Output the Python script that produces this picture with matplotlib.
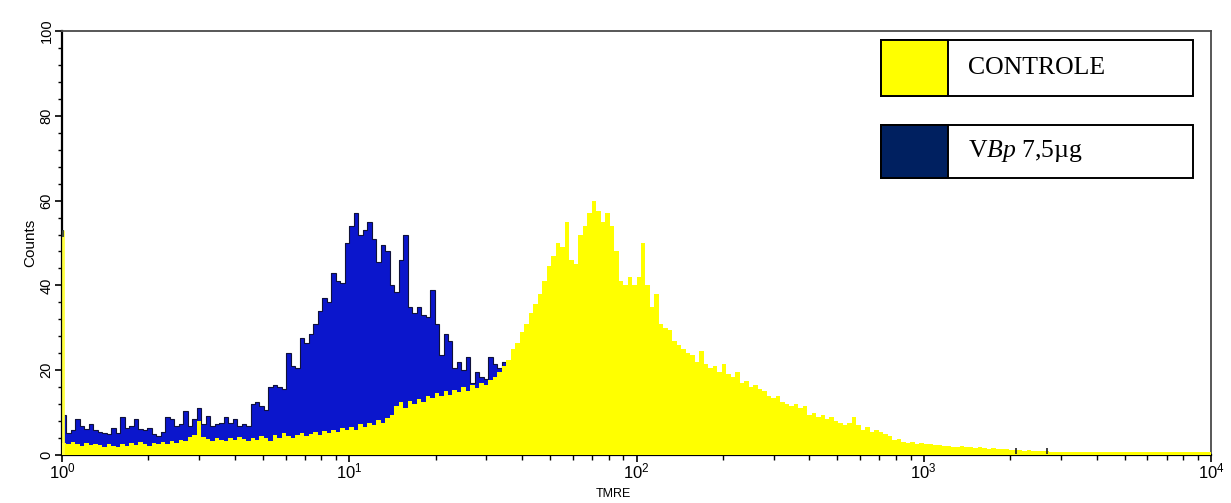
import numpy as np
import matplotlib
matplotlib.use("Agg")
import matplotlib.pyplot as plt
from matplotlib.patches import Rectangle
from matplotlib.ticker import MultipleLocator, LogLocator

plt.rcParams["font.family"] = ["Liberation Sans", "DejaVu Sans"]
plt.rcParams["mathtext.fontset"] = "custom"
plt.rcParams["mathtext.rm"] = "Liberation Serif"
plt.rcParams["mathtext.it"] = "Liberation Serif:italic"

# histogram counts, 64 channels per decade starting at 10^0
control_counts = [
    2.8, 2.5, 3.0, 2.6, 2.2, 2.9, 2.4, 2.7, 2.3, 2.0,
    2.6, 2.2, 1.8, 2.5, 2.1, 2.8, 2.4, 3.0, 2.6, 2.2,
    2.9, 2.5, 3.1, 2.7, 3.3, 2.8, 3.6, 3.2, 4.2, 4.6,
    8.0, 4.2, 3.8, 3.4, 4.0, 3.6, 3.2, 3.9, 3.5, 4.2,
    3.8, 3.3, 4.1, 3.6, 4.5, 3.9, 3.4, 4.6, 4.0, 5.2,
    4.4, 3.9, 4.8, 5.1, 4.5, 4.9, 5.4, 4.8, 5.6, 5.2,
    6.0, 5.4, 6.3, 5.8, 6.5, 6.0, 7.2, 6.6, 7.6, 7.0,
    8.2, 7.5, 8.8, 9.5, 11.5, 12.5, 11.0, 12.8, 12.0, 13.2,
    12.6, 14.0, 13.4, 14.6, 13.8, 15.0, 14.2, 15.4, 14.8, 16.0,
    15.2, 16.5, 15.8, 17.0, 16.4, 17.6, 18.4, 19.5, 21.0, 22.5,
    25.0, 26.5, 29.0, 31.0, 33.5, 35.5, 38.0, 41.0, 44.5, 47.0,
    50.0, 49.0, 55.0, 46.0, 45.0, 52.0, 54.0, 57.0, 60.0, 57.5,
    55.0, 57.0, 54.0, 48.0, 41.0, 40.0, 42.0, 40.0, 42.0, 50.0,
    40.0, 35.0, 38.0, 31.0, 30.0, 29.5, 27.0, 26.0, 25.0, 24.0,
    23.5, 22.0, 24.5, 21.5, 20.5, 21.0, 19.5, 21.5, 19.0, 18.5,
    19.5, 17.0, 17.5, 16.0, 16.5, 15.5, 15.0, 14.0, 13.5, 14.0,
    12.5, 12.0, 11.5, 12.0, 11.0, 11.5, 9.5, 10.0, 9.0, 9.5,
    8.5, 9.0, 8.0, 7.5, 7.0, 7.5, 9.0, 7.0, 6.0, 6.5,
    5.5, 6.0, 5.5, 5.0, 4.5, 3.5, 3.8, 3.0, 2.8, 3.0,
    2.6, 2.8, 2.5, 2.7, 2.3, 2.4, 2.1, 2.2, 2.0, 1.9,
    2.1, 1.8, 1.9, 1.7, 1.8, 1.6, 1.5, 1.6, 1.4, 1.5,
    1.3, 1.2, 1.1, 1.2, 1.0, 1.1, 1.0, 0.9, 1.0, 0.9,
    0.8, 0.7, 0.7, 0.6, 0.7, 0.6, 0.6, 0.6, 0.6, 0.6,
    0.6, 0.6, 0.6, 0.6, 0.6, 0.6, 0.6, 0.6, 0.6, 0.6,
    0.6, 0.6, 0.6, 0.6, 0.6, 0.6, 0.6, 0.6, 0.6, 0.6,
    0.6, 0.6, 0.6, 0.6, 0.6, 0.6,
]

vbp_counts = [
    9.5, 5.2, 5.8, 8.5, 6.8, 6.2, 7.2, 5.8, 5.4, 5.3,
    4.9, 6.4, 5.3, 9.0, 6.3, 6.8, 8.6, 6.2, 5.8, 6.3,
    4.9, 4.4, 5.4, 9.0, 8.6, 6.8, 7.2, 10.4, 6.8, 8.5,
    11.0, 7.2, 9.3, 6.8, 7.2, 7.6, 8.9, 7.6, 8.4, 6.8,
    7.2, 6.8, 12.0, 12.5, 11.5, 10.5, 16.0, 16.5, 16.0, 15.5,
    24.0, 21.0, 20.5, 27.5, 26.5, 28.5, 31.0, 34.0, 37.0, 36.0,
    43.0, 41.0, 40.5, 50.0, 54.0, 57.0, 52.0, 53.0, 55.0, 51.0,
    45.5, 49.5, 48.0, 40.0, 38.5, 46.0, 52.0, 35.0, 33.5, 35.0,
    33.0, 32.5, 39.0, 31.0, 23.5, 28.5, 27.0, 20.5, 22.0, 20.0,
    23.0, 17.0, 19.5, 18.5, 18.0, 23.0, 21.5, 20.5, 22.0, 21.5,
]

first_channel = 53          # off-scale pile-up in channel 0
marker_pos = [2095, 2685]   # small region markers on the baseline

legend_labels = ["CONTROLE", r"V$\mathit{Bp}$ 7,5µg"]
legend_colors = ["#ffff00", "#002060"]

W, H = 1231, 503
fig = plt.figure(figsize=(W / 100, H / 100), dpi=100)
ax = fig.add_axes([62 / W, (H - 455) / H, (1211 - 62) / W, (455 - 31) / H])

edges = 10 ** (np.arange(len(control_counts) + 1) / 64)
blue_edges = edges[: len(vbp_counts) + 1]

ax.stairs(vbp_counts, blue_edges, fill=True, color="#0b16cc", zorder=1)
ax.stairs(vbp_counts, blue_edges, color="#10123a", lw=0.8, zorder=2)
ax.stairs(control_counts, edges, fill=True, color="#ffff00", zorder=3)
ax.vlines(1.012, 0, first_channel, color="#ffff40", lw=2, zorder=3)
ax.vlines(1.012, first_channel - 1.5, first_channel, color="#203040", lw=1.2, zorder=4)
ax.plot(marker_pos, [0.3] * len(marker_pos), ls="none", marker=2, ms=4, mew=1.2,
        color="#222222", zorder=5)

ax.set_xscale("log")
ax.set_xlim(1, 1e4)
ax.set_ylim(0, 100)
ax.xaxis.set_major_locator(LogLocator(base=10, numticks=10))
ax.xaxis.set_minor_locator(LogLocator(base=10, subs=np.arange(2, 10), numticks=20))
ax.yaxis.set_major_locator(MultipleLocator(20))
ax.yaxis.set_minor_locator(MultipleLocator(4))

ax.tick_params(axis="both", which="both", direction="out", color="black")
ax.tick_params(axis="x", which="major", length=5, width=1.2, labelsize=12, pad=0)
ax.tick_params(axis="x", which="minor", length=3.5, width=1.0)
ax.tick_params(axis="y", which="major", length=5, width=1.2, labelsize=10.5, pad=1)
ax.tick_params(axis="y", which="minor", length=3, width=1.0)
for lab in ax.get_yticklabels():
    lab.set_rotation(90)
    lab.set_va("center")

for side in ["left", "bottom"]:
    ax.spines[side].set_linewidth(1.6)
    ax.spines[side].set_color("black")
for side in ["top", "right"]:
    ax.spines[side].set_linewidth(1.3)
    ax.spines[side].set_color("#4a4a4a")

ax.set_ylabel("Counts", fontsize=11, labelpad=2)
fig.text(613 / W, (H - 494) / H, "TMRE", fontsize=9, ha="center", va="center")

# legend boxes
box_tops = [40, 125]
box_bottoms = [96, 178]
for top, bottom, color, text in zip(box_tops, box_bottoms, legend_colors, legend_labels):
    y0 = (H - bottom) / H
    h = (bottom - top) / H
    fig.patches.append(Rectangle((881 / W, y0), (1193 - 881) / W, h, transform=fig.transFigure,
                                 facecolor="white", edgecolor="black", lw=1.4, zorder=10))
    fig.patches.append(Rectangle((881 / W, y0), (948 - 881) / W, h, transform=fig.transFigure,
                                 facecolor=color, edgecolor="black", lw=1.4, zorder=11))
    fig.text(968 / W, y0 + h / 2, text, fontsize=18.5, family="Liberation Serif",
             ha="left", va="center", zorder=12)

fig.savefig("out.png", dpi=100)
